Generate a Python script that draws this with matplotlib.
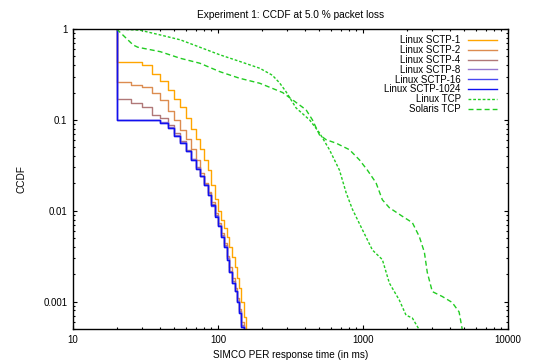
import numpy as np
import matplotlib
matplotlib.use("Agg")
import matplotlib.pyplot as plt
from matplotlib.ticker import LogLocator, NullFormatter, FixedFormatter, FixedLocator

plt.rcParams['font.family'] = ['Liberation Sans', 'DejaVu Sans']

# response time grid (ms) for the SCTP runs, first point is the jump at 20 ms
sctp_ms = [20, 20, 25, 30, 35, 40, 45, 50, 55, 60, 65, 70, 75, 80, 85, 90, 95,
           100, 105, 110, 115, 120, 125, 130, 135, 140, 145, 150, 155]

sctp_1 = [1.0, 0.43, 0.43, 0.40, 0.32, 0.27, 0.215, 0.17, 0.14, 0.105, 0.079,
          0.062, 0.048, 0.036, 0.028, 0.019, 0.0135, 0.0100, 0.0080, 0.0064,
          0.0051, 0.0040, 0.0031, 0.0024, 0.0018, 0.0014, 0.0010, 0.00068, 0.0004]
sctp_2 = [1.0, 0.26, 0.245, 0.23, 0.20, 0.165, 0.125, 0.10, 0.078, 0.062, 0.048,
          0.036, 0.026, 0.020, 0.016, 0.0125, 0.0095, 0.0074, 0.0057, 0.0044,
          0.0032, 0.0024, 0.0018, 0.0014, 0.0011, 0.00082, 0.0006, 0.00042, 0.0003]
sctp_4 = [1.0, 0.17, 0.155, 0.137, 0.113, 0.104, 0.088, 0.072, 0.058, 0.047, 0.037,
          0.030, 0.024, 0.0195, 0.0155, 0.012, 0.009, 0.007, 0.0054, 0.0042,
          0.0030, 0.0022, 0.0017, 0.0013, 0.00102, 0.00078, 0.00056, 0.00042, 0.0003]
sctp_8 = [1.0, 0.1, 0.1, 0.1, 0.1, 0.094, 0.083, 0.068, 0.057, 0.046, 0.037,
          0.0295, 0.024, 0.019, 0.015, 0.0117, 0.0088, 0.0069, 0.0053, 0.0041,
          0.0030, 0.0021, 0.0016, 0.0013, 0.00101, 0.00076, 0.00054, 0.0004, 0.0003]
sctp_16 = [1.0, 0.1, 0.1, 0.1, 0.099, 0.092, 0.081, 0.067, 0.056, 0.045, 0.036,
           0.029, 0.024, 0.019, 0.015, 0.0114, 0.0087, 0.0068, 0.0052, 0.0040,
           0.0029, 0.0021, 0.0016, 0.0013, 0.0010, 0.00075, 0.00053, 0.0004, 0.0003]
sctp_1024 = [1.0, 0.1, 0.1, 0.1, 0.099, 0.092, 0.082, 0.067, 0.056, 0.045, 0.036,
             0.029, 0.024, 0.019, 0.015, 0.0115, 0.0086, 0.0068, 0.0052, 0.0040,
             0.0029, 0.0021, 0.0016, 0.0013, 0.0010, 0.00075, 0.00053, 0.0004, 0.0003]

linux_tcp_ms = [20, 29, 40, 55, 75, 103, 141, 194, 237, 266, 294, 346, 428, 501,
                587, 688, 765, 845, 990, 1161, 1360, 1520, 1780, 1980, 2190, 2445, 2500]
linux_tcp = [1.0, 0.97, 0.86, 0.76, 0.63, 0.52, 0.44, 0.37, 0.31, 0.255, 0.205,
             0.135, 0.10, 0.072, 0.047, 0.028, 0.0158, 0.0104, 0.0062, 0.0037,
             0.0029, 0.0016, 0.00104, 0.00071, 0.00066, 0.00049, 0.0004]

solaris_tcp_ms = [20, 26, 28, 40, 55, 75, 103, 141, 194, 279, 327, 405, 448, 501,
                  557, 653, 806, 945, 1072, 1230, 1360, 1520, 1866, 2190, 2445,
                  2650, 2775, 3005, 3520, 4120, 4600, 4830, 4900]
solaris_tcp = [1.0, 0.667, 0.63, 0.563, 0.476, 0.42, 0.339, 0.287, 0.253, 0.2,
               0.166, 0.129, 0.1, 0.0684, 0.0605, 0.0554, 0.047, 0.0363, 0.028,
               0.0203, 0.0132, 0.0108, 0.0087, 0.0074, 0.0052, 0.0035, 0.0021,
               0.00129, 0.00114, 0.00098, 0.00077, 0.0005, 0.0004]

sctp_runs = [
    ("Linux SCTP-1", sctp_1, "#ffa500"),
    ("Linux SCTP-2", sctp_2, "#dc8c50"),
    ("Linux SCTP-4", sctp_4, "#b07878"),
    ("Linux SCTP-8", sctp_8, "#9478d0"),
    ("Linux SCTP-16", sctp_16, "#4848f0"),
    ("Linux SCTP-1024", sctp_1024, "#1010f0"),
]

fig = plt.figure(figsize=(5.36, 3.63), dpi=100)
ax = fig.add_axes([73/536, 34/363, 435/536, 300/363])

for label, vals, col in sctp_runs:
    ax.plot(sctp_ms, vals, color=col, lw=1.0, drawstyle='steps-post', label=label)

green = "#22cc22"
ax.plot(linux_tcp_ms, linux_tcp, color=green, lw=1.0, dashes=(2.0, 1.4), label="Linux TCP")
ax.plot(solaris_tcp_ms, solaris_tcp, color=green, lw=1.0, dashes=(3.6, 2.2), label="Solaris TCP")

ax.set_xscale('log')
ax.set_yscale('log')
ax.set_xlim(10, 10000)
ax.set_ylim(0.0005, 1)

ax.xaxis.set_major_locator(FixedLocator([10, 100, 1000, 10000]))
ax.xaxis.set_major_formatter(FixedFormatter(["10", "100", "1000", "10000"]))
ax.yaxis.set_major_locator(FixedLocator([0.001, 0.01, 0.1, 1]))
ax.yaxis.set_major_formatter(FixedFormatter(["0.001", "0.01", "0.1", "1"]))
ax.xaxis.set_minor_locator(LogLocator(base=10, subs=np.arange(2, 10)))
ax.yaxis.set_minor_locator(LogLocator(base=10, subs=np.arange(2, 10)))
ax.xaxis.set_minor_formatter(NullFormatter())
ax.yaxis.set_minor_formatter(NullFormatter())

ax.tick_params(which='both', direction='in', top=True, right=True,
               labelsize=7, width=0.8, color='black')
ax.tick_params(which='major', length=3.2, pad=4)
ax.tick_params(which='minor', length=1.6)
for sp in ax.spines.values():
    sp.set_linewidth(1.0)

ax.set_title("Experiment 1: CCDF at 5.0 % packet loss", fontsize=7.3, pad=8)
ax.set_xlabel("SIMCO PER response time (in ms)", fontsize=7.2, labelpad=4)
ax.set_ylabel("CCDF", fontsize=7.2, labelpad=12)

ax.legend(loc='upper right', bbox_to_anchor=(0.974, 0.979), frameon=False,
          markerfirst=False, fontsize=7, handlelength=3.0, handletextpad=0.7,
          labelspacing=-0.02, borderaxespad=0.0, borderpad=0.0)

fig.savefig("out.png", dpi=100)
